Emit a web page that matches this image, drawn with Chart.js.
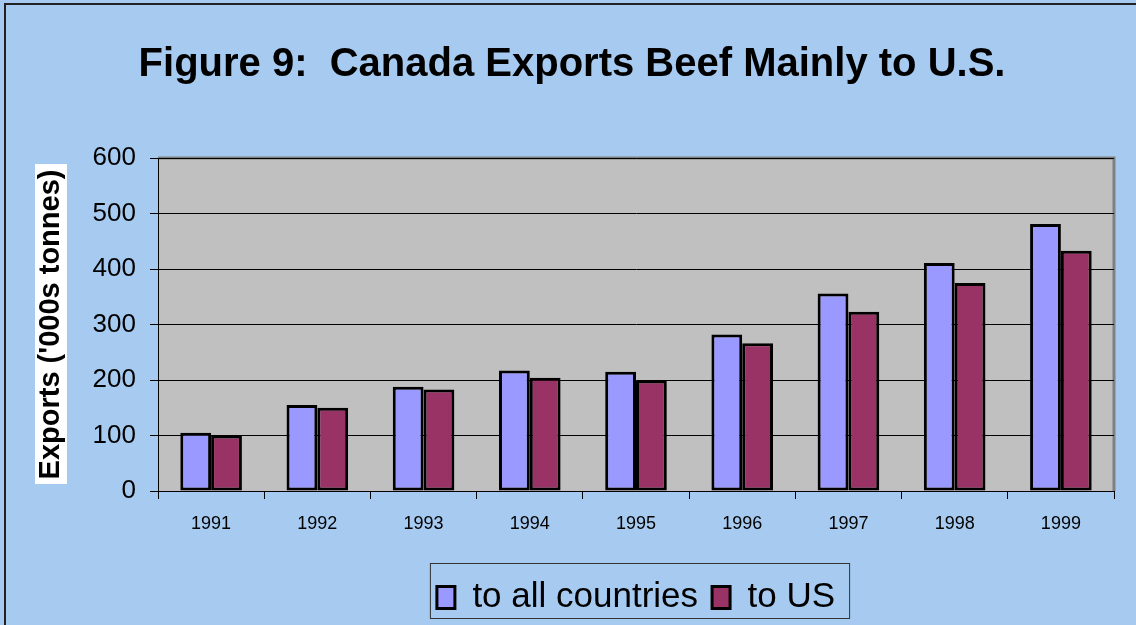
<!DOCTYPE html>
<html>
<head>
<meta charset="utf-8">
<script src="https://cdn.jsdelivr.net/npm/chart.js@4.4.0/dist/chart.umd.min.js"></script>
<style>
  html, body { margin: 0; padding: 0; background: #a6caf0; }
  #wrap { width: 1136px; height: 625px; position: relative; }
</style>
</head>
<body>
<div id="wrap"><canvas id="beef-chart" width="1136" height="625"></canvas></div>
<script>
const years = ['1991', '1992', '1993', '1994', '1995', '1996', '1997', '1998', '1999'];
const toAllCountries = [105, 155, 188, 217, 215, 282, 356, 411, 481];
const toUS = [100, 150, 183, 204, 199, 266, 323, 375, 433];
const yTicks = [0, 100, 200, 300, 400, 500, 600];

// page frame, grey plot area, white box behind the axis title, legend frame
const decor = {
    id: 'decor',
    beforeDraw(chart) {
        const c = chart.ctx;
        const a = chart.chartArea;
        c.save();
        c.fillStyle = '#a6caf0';
        c.fillRect(0, 0, chart.width, chart.height);
        c.strokeStyle = '#222';
        c.lineWidth = 2;
        c.strokeRect(5, 4, chart.width + 10, chart.height + 10);
        c.fillStyle = '#c0c0c0';
        c.fillRect(a.left, a.top, a.right - a.left, a.bottom - a.top);
        c.strokeStyle = '#808080';
        c.lineWidth = 3;
        c.beginPath();
        c.moveTo(a.left, a.top);
        c.lineTo(a.right, a.top);
        c.lineTo(a.right, a.bottom);
        c.stroke();
        const y = chart.scales.y;
        c.fillStyle = '#ffffff';
        c.fillRect(y.left + 5, a.top + 6, 32, a.bottom - a.top - 13);
        c.restore();
    },
    afterDraw(chart) {
        const boxes = chart.legend.legendHitBoxes;
        if (!boxes || !boxes.length) return;
        const c = chart.ctx;
        const first = boxes[0];
        const last = boxes[boxes.length - 1];
        const l = first.left - 7;
        const r = last.left + last.width + 14;
        const t = first.top - 17;
        const b = first.top + first.height + 3;
        c.save();
        c.strokeStyle = '#333';
        c.lineWidth = 1;
        c.strokeRect(l + 0.5, t + 0.5, r - l, b - t);
        c.restore();
    }
};

var ctx = document.getElementById('beef-chart').getContext('2d');
new Chart(ctx, {
    type: 'bar',
    data: {
        labels: years,
        datasets: [{
            label: 'to all countries',
            data: toAllCountries,
            backgroundColor: '#9999ff',
            borderColor: '#000000',
            borderWidth: 3,
            borderSkipped: false
        }, {
            label: 'to US',
            data: toUS,
            backgroundColor: '#993366',
            borderColor: '#000000',
            borderWidth: 3,
            borderSkipped: false
        }]
    },
    options: {
        responsive: false,
        animation: false,
        layout: { padding: { left: 30, right: 22, top: 0, bottom: 0 } },
        datasets: { bar: { categoryPercentage: 0.58, barPercentage: 1.0 } },
        scales: {
            x: {
                grid: { display: true, offset: true, drawOnChartArea: false, color: '#000', tickLength: 8 },
                border: { color: '#000', width: 1 },
                ticks: { color: '#000', font: { family: 'Liberation Sans', size: 18 }, padding: 14 },
                afterFit(scale) { scale.height = 75; }
            },
            y: {
                min: 0,
                max: 600,
                afterBuildTicks(scale) { scale.ticks = yTicks.map(v => ({ value: v })); },
                grid: { color: '#000', lineWidth: 1, tickLength: 8, tickColor: '#000' },
                border: { color: '#000', width: 1 },
                ticks: { color: '#000', font: { family: 'Liberation Sans', size: 26 }, padding: 14 },
                title: {
                    display: true,
                    text: "Exports ('000s tonnes)",
                    color: '#000',
                    font: { family: 'Liberation Sans', size: 29, weight: 'bold' },
                    padding: { top: 4, bottom: 0 }
                },
                afterFit(scale) { scale.width = 128; }
            }
        },
        plugins: {
            title: {
                display: true,
                text: 'Figure 9:  Canada Exports Beef Mainly to U.S.',
                color: '#000',
                font: { family: 'Liberation Sans', size: 40, weight: 'bold' },
                padding: { top: 41, bottom: 69 }
            },
            legend: {
                position: 'bottom',
                fullSize: false,
                labels: {
                    color: '#000',
                    font: { family: 'Liberation Sans', size: 35 },
                    boxWidth: 18,
                    boxHeight: 22,
                    padding: 14
                }
            },
            tooltip: { enabled: false }
        }
    },
    plugins: [decor]
});
</script>
</body>
</html>
